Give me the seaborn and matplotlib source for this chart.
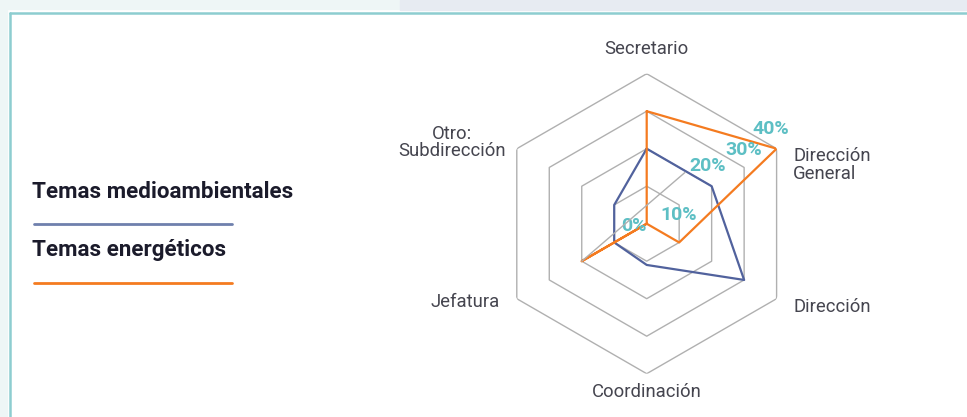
import numpy as np
import matplotlib.pyplot as plt
from matplotlib.lines import Line2D
from matplotlib.patches import Rectangle
import pandas as pd
import seaborn as sns

categories = ["Secretario", "Dirección\nGeneral", "Dirección", "Coordinación",
              "Jefatura", "Otro:\nSubdirección"]
medioambientales = [20, 20, 30, 11, 10, 10]
energeticos = [30, 40, 10, 0, 20, 0]
series_names = ["Temas medioambientales", "Temas energéticos"]
ring_values = [10, 20, 30, 40]
tick_values = [0, 10, 20, 30, 40]
tick_labels = ["0%", "10%", "20%", "30%", "40%"]

BLUE = "#51629d"
ORANGE = "#f47b20"
TEAL = "#5dbfc4"
GRID = "#b0b0b0"
LABEL = "#45454f"

sns.set_style("white")
plt.rcParams["font.family"] = ["Roboto", "DejaVu Sans"]

W, H = 967, 417
fig = plt.figure(figsize=(W / 100, H / 100), dpi=100)
fig.patch.set_facecolor("white")

# page background around the card + teal frame
fig.add_artist(Rectangle((0, 0), 7 / W, 1, transform=fig.transFigure,
                         color="#eef6f6", zorder=0))
fig.add_artist(Rectangle((0, 1 - 9 / H), 400 / W, 9 / H, transform=fig.transFigure,
                         color="#eef6f6", zorder=0))
fig.add_artist(Rectangle((400 / W, 1 - 10 / H), 1 - 400 / W, 10 / H,
                         transform=fig.transFigure, color="#e7ebf2", zorder=0))
fig.add_artist(Line2D([10 / W, 1], [1 - 12.5 / H] * 2, color="#8dcdd0", lw=1.8))
fig.add_artist(Line2D([10 / W] * 2, [0, 1 - 12.5 / H], color="#8dcdd0", lw=1.8))

# radar axes: centre (646.7, 223.7) px, radius 150 px
cx, cy, R = 646.7, 223.7, 150
ax = fig.add_axes([(cx - R) / W, (H - cy - R) / H, 2 * R / W, 2 * R / H],
                  projection="polar")
ax.set_theta_offset(np.pi / 2)
ax.set_theta_direction(-1)
ax.set_ylim(0, 40)
ax.axis("off")

n = len(categories)
theta = np.arange(n) * 2 * np.pi / n
theta_closed = np.append(theta, theta[0])

for v in ring_values:
    ax.plot(theta_closed, [v] * (n + 1), color=GRID, lw=1.0, zorder=1)

df = pd.DataFrame({
    "theta": np.concatenate([theta_closed, theta_closed]),
    "value": medioambientales + medioambientales[:1] + energeticos + energeticos[:1],
    "serie": [series_names[0]] * (n + 1) + [series_names[1]] * (n + 1),
})
sns.lineplot(data=df, x="theta", y="value", hue="serie", palette=[BLUE, ORANGE],
             sort=False, estimator=None, legend=False, lw=1.6, ax=ax, zorder=3)

# category labels (offsets in points from the outer vertex)
cat_layout = [
    ((0, 18), "center", "center"),
    ((12, -11.5), "left", "center"),
    ((12, -6), "left", "center"),
    ((0, -13), "center", "center"),
    ((-12, -2.5), "right", "center"),
    ((-8, 4.5), "right", "center"),
]
for i, (lab, (off, ha, va)) in enumerate(zip(categories, cat_layout)):
    ax.annotate(lab, xy=(theta[i], 40), xytext=off, textcoords="offset points",
                ha=ha, va=va, multialignment="center" if i == 5 else "left",
                fontsize=13.3, color=LABEL, linespacing=0.98)

# value labels along the Dirección General spoke
tick_offsets = [(-9, -1.5), (-0.5, -7), (-3, 14.5), (0, 12.5), (-4.5, 14)]
for v, lab, off in zip(tick_values, tick_labels, tick_offsets):
    if v == 20:
        # this label carries a grey leader line back to the Jefatura vertex
        ax.annotate(lab, xy=(theta[4], 20), xytext=(90.6, 68.5),
                    textcoords="offset points", ha="center", va="center",
                    fontsize=14, fontweight="bold", color=TEAL, zorder=5,
                    arrowprops=dict(arrowstyle="-", color=GRID, lw=1.0,
                                    shrinkA=1, shrinkB=0, relpos=(0, 0.35)))
        continue
    ax.annotate(lab, xy=(theta[1], v), xytext=off, textcoords="offset points",
                ha="center", va="center", fontsize=14, fontweight="bold",
                color=TEAL, zorder=5)

# legend on the left
fig.text(32 / W, 1 - 192 / H, series_names[0], fontsize=16.1, fontweight="bold",
         color="#1b1b2b", va="center", ha="left")
fig.add_artist(Line2D([34 / W, 232 / W], [1 - 224.3 / H] * 2, color="#6f80ad", lw=2.0))
fig.text(32 / W, 1 - 250 / H, series_names[1], fontsize=16.1, fontweight="bold",
         color="#1b1b2b", va="center", ha="left")
fig.add_artist(Line2D([34 / W, 232 / W], [1 - 282.7 / H] * 2, color=ORANGE, lw=2.0))

fig.savefig("out.png", dpi=100)
